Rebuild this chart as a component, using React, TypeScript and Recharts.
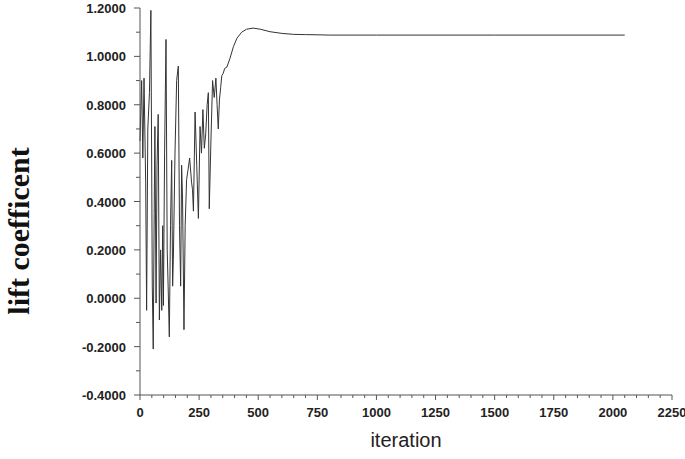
import React from 'react';
import { LineChart, Line, XAxis, YAxis } from 'recharts';

// iteration / lift coefficient samples
const iterations = [
  0, 7, 12, 17, 24, 28, 33, 40, 46, 52, 56, 60, 63, 68, 72, 77, 82, 87, 92, 96,
  99, 104, 110, 115, 119, 124, 129, 134, 138, 141, 148, 155, 162, 167, 172, 176, 180, 186, 191, 197,
  203, 210, 218, 222, 226, 233, 240, 247, 254, 260, 266, 272, 278, 284, 289, 293, 300, 307, 314, 321,
  326, 331, 336, 341, 346, 352, 358, 367, 380, 395, 410, 430, 450, 478, 510, 550, 600, 650, 700, 761,
  800, 1000, 1500, 2050,
];
const lift = [
  0.65, 0.9, 0.58, 0.91, 0.48, -0.05, 0.7, 0.85, 1.19, 0.05, -0.21, 0.35, 0.71, -0.02, 0.55, 0.76, -0.09, 0.2, -0.05, 0.3,
  -0.03, 0.6, 1.07, 0.2, 0.05, -0.16, 0.3, 0.57, 0.05, 0.16, 0.6, 0.9, 0.96, 0.3, 0.05, 0.55, 0.41, -0.13, 0.3, 0.49,
  0.53, 0.58, 0.48, 0.45, 0.36, 0.77, 0.55, 0.33, 0.71, 0.6, 0.78, 0.62, 0.68, 0.8, 0.85, 0.37, 0.65, 0.9, 0.83, 0.91,
  0.8, 0.7, 0.82, 0.87, 0.92, 0.93, 0.95, 0.955, 0.99, 1.04, 1.075, 1.1, 1.112, 1.117, 1.112, 1.102, 1.095, 1.091, 1.09, 1.089,
  1.088, 1.088, 1.088, 1.088,
];

const xTicks = Array.from({ length: 46 }, (_, i) => i * 50);
const yTicks = Array.from({ length: 17 }, (_, i) => Math.round((-0.4 + i * 0.1) * 10) / 10);

const data = iterations.map((it, i) => ({ it, cl: lift[i] }));

const AXIS = '#555';
const TXT = '#222';
const FONT = '"Liberation Sans", Arial, sans-serif';

const XTick = (props: any) => {
  const { x, y, payload } = props;
  const major = payload.value % 250 === 0;
  return (
    <g>
      <line x1={x} x2={x} y1={y} y2={y + (major ? 5 : 3)} stroke={AXIS} strokeWidth={1} />
      {major && (
        <text x={x} y={y + 22} textAnchor="middle" fill={TXT} fontSize={13} fontWeight="bold" fontFamily={FONT}>
          {payload.value}
        </text>
      )}
    </g>
  );
};

const YTick = (props: any) => {
  const { x, y, payload } = props;
  const major = Math.round(payload.value * 10) % 2 === 0;
  return (
    <g>
      <line x1={x - (major ? 6 : 4)} x2={x} y1={y} y2={y} stroke={AXIS} strokeWidth={1} />
      {major && (
        <text x={x - 14} y={y + 5} textAnchor="end" fill={TXT} fontSize={13} fontWeight="bold" fontFamily={FONT}>
          {payload.value.toFixed(4)}
        </text>
      )}
    </g>
  );
};

// rotated y title, sits a bit below the plot centre like the source
const YTitle = () => (
  <text
    transform="translate(29,231) rotate(-90)"
    textAnchor="middle"
    fill="#111"
    fontSize={30}
    fontWeight="bold"
    fontFamily='"Liberation Serif", "Times New Roman", serif'
  >
    lift coefficent
  </text>
);

export default function App() {
  return (
    <div style={{ position: 'absolute', left: 0, top: 0, background: '#fff' }}>
      <LineChart width={685} height={459} data={data} margin={{ top: 8, right: 13, left: 0, bottom: 0 }}>
        <XAxis
          dataKey="it"
          type="number"
          domain={[0, 2250]}
          ticks={xTicks}
          interval={0}
          tickSize={0}
          tickMargin={0}
          tick={<XTick />}
          height={64}
          stroke={AXIS}
          label={{ value: 'iteration', position: 'insideBottom', offset: 12, fill: TXT, fontSize: 20, fontFamily: FONT }}
        />
        <YAxis
          type="number"
          domain={[-0.4, 1.2]}
          ticks={yTicks}
          interval={0}
          tickSize={0}
          tickMargin={0}
          tick={<YTick />}
          width={140}
          stroke={AXIS}
          label={{ content: () => <YTitle /> }}
        />
        <Line
          dataKey="cl"
          type="linear"
          stroke="#333"
          strokeWidth={1}
          dot={false}
          isAnimationActive={false}
        />
      </LineChart>
    </div>
  );
}
